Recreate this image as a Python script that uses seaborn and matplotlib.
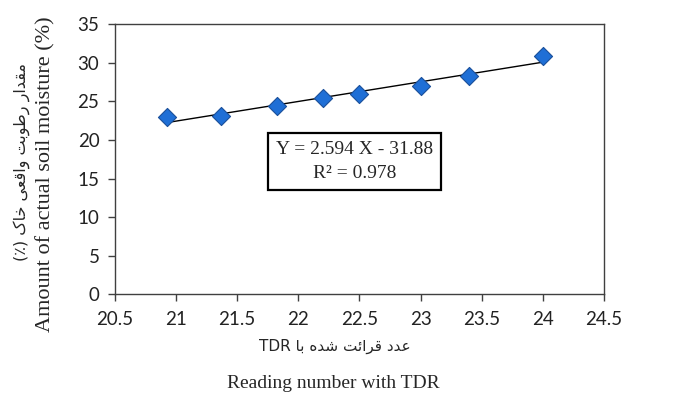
import numpy as np
import matplotlib
matplotlib.use('Agg')
import matplotlib.pyplot as plt
import seaborn as sns

# data
tdr_reading = [20.93, 21.37, 21.83, 22.20, 22.50, 23.00, 23.40, 24.00]
soil_moisture = [23.0, 23.1, 24.4, 25.5, 26.0, 27.0, 28.3, 30.9]
x_ticks = [20.5, 21, 21.5, 22, 22.5, 23, 23.5, 24, 24.5]
y_ticks = [0, 5, 10, 15, 20, 25, 30, 35]
eq_text = 'Y = 2.594 X - 31.88\nR² = 0.978'
ylabel_fa = 'مقدار رطوبت واقعی خاک (٪)'
ylabel_en = 'Amount of actual soil moisture (%)'
xlabel_fa = 'عدد قرائت شده با TDR'
xlabel_en = 'Reading number with TDR'

# minimal Persian shaping (matplotlib has no bidi / joining)
# letter: (isolated, final, initial, medial) ; None -> does not join to the next letter
FORMS = {
    'ا': ('\ufe8d', '\ufe8e', None, None),
    'ب': ('\ufe8f', '\ufe90', '\ufe91', '\ufe92'),
    'ت': ('\ufe95', '\ufe96', '\ufe97', '\ufe98'),
    'خ': ('\ufea5', '\ufea6', '\ufea7', '\ufea8'),
    'د': ('\ufea9', '\ufeaa', None, None),
    'ر': ('\ufead', '\ufeae', None, None),
    'ش': ('\ufeb5', '\ufeb6', '\ufeb7', '\ufeb8'),
    'ط': ('\ufec1', '\ufec2', '\ufec3', '\ufec4'),
    'ع': ('\ufec9', '\ufeca', '\ufecb', '\ufecc'),
    'ق': ('\ufed5', '\ufed6', '\ufed7', '\ufed8'),
    'م': ('\ufee1', '\ufee2', '\ufee3', '\ufee4'),
    'ه': ('\ufee9', '\ufeea', '\ufeeb', '\ufeec'),
    'و': ('\ufeed', '\ufeee', None, None),
    'ئ': ('\ufe89', '\ufe8a', '\ufe8b', '\ufe8c'),
    'ی': ('\ufbfc', '\ufbfd', '\ufbfe', '\ufbff'),
    'ک': ('\ufb8e', '\ufb8f', '\ufb90', '\ufb91'),
}


def shape_fa(text):
    out = []
    for i, ch in enumerate(text):
        if ch not in FORMS:
            out.append(ch)
            continue
        prev = text[i - 1] if i > 0 else ''
        nxt = text[i + 1] if i + 1 < len(text) else ''
        join_prev = prev in FORMS and FORMS[prev][2] is not None
        join_next = nxt in FORMS and FORMS[ch][2] is not None
        iso, fin, ini, med = FORMS[ch]
        if join_prev and join_next:
            out.append(med)
        elif join_prev:
            out.append(fin)
        elif join_next:
            out.append(ini)
        else:
            out.append(iso)
    # visual order: reverse words, keep latin runs readable
    words = ''.join(out).split(' ')
    vis = []
    for w in reversed(words):
        if w.isascii():
            vis.append(w)
        else:
            w = w[::-1].translate(str.maketrans('()', ')('))
            vis.append(w)
    return ' '.join(vis)


sns.set_style('white')
plt.rcParams['font.family'] = ['Lato', 'DejaVu Sans']

fig = plt.figure(figsize=(6.94, 3.94), dpi=100)
ax = fig.add_axes([0.1653, 0.253, 0.705, 0.6853])

sns.regplot(x=tdr_reading, y=soil_moisture, ax=ax, scatter=False, ci=None,
            color='black', line_kws={'linewidth': 1.0})
sns.scatterplot(x=tdr_reading, y=soil_moisture, ax=ax, marker='D', s=85,
                color='#1f6fd6', edgecolor='#1a4f9a', linewidth=0.8, zorder=3)

ax.set_xlim(20.5, 24.5)
ax.set_ylim(0, 35)
ax.set_xticks(x_ticks)
ax.set_yticks(y_ticks)
ax.set_xticklabels([f'{t:g}' for t in x_ticks])
ax.set_yticklabels([str(t) for t in y_ticks])
ax.tick_params(axis='both', direction='out', length=5, width=1, color='#404040',
               labelsize=13.5, labelcolor='#222222', left=True, bottom=True)
ax.tick_params(axis='x', pad=7)
ax.tick_params(axis='y', pad=6)
for sp in ax.spines.values():
    sp.set_color('#404040')
    sp.set_linewidth(1.0)
ax.set_xlabel('')
ax.set_ylabel('')

ax.text(22.46, 17.2, eq_text, ha='center', va='center', fontsize=14,
        family='Liberation Serif', linespacing=1.5,
        bbox=dict(boxstyle='square,pad=0.42', facecolor='white',
                  edgecolor='black', linewidth=1.6))

# axis titles (Persian + English)
fig.text(22 / 694, 1 - 162 / 394, shape_fa(ylabel_fa), rotation=90,
         ha='center', va='center', fontsize=11.5, family='DejaVu Sans')
fig.text(46 / 694, 1 - 174 / 394, ylabel_en, rotation=90,
         ha='center', va='center', fontsize=16, family='Liberation Serif')
fig.text(335 / 694, 1 - 346 / 394, shape_fa(xlabel_fa),
         ha='center', va='center', fontsize=11, family='DejaVu Sans')
fig.text(333 / 694, 1 - 384 / 394, xlabel_en,
         ha='center', va='center', fontsize=14, family='Liberation Serif')

fig.savefig('out.png', dpi=100)
